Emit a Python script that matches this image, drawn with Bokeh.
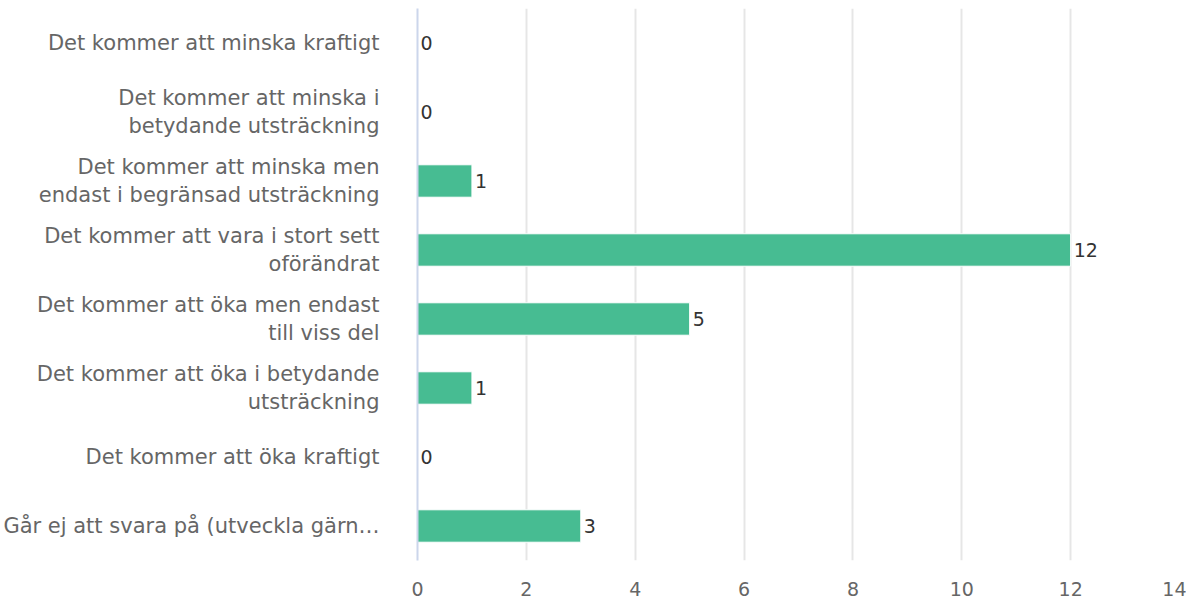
from bokeh.plotting import figure
from bokeh.models import ColumnDataSource, FactorRange, Range1d, FixedTicker
from bokeh.core.properties import value
from bokeh.embed import file_html
from bokeh.resources import INLINE

categories = [
    "Det kommer att minska kraftigt",
    "Det kommer att minska i\nbetydande utsträckning",
    "Det kommer att minska men\nendast i begränsad utsträckning",
    "Det kommer att vara i stort sett\noförändrat",
    "Det kommer att öka men endast\ntill viss del",
    "Det kommer att öka i betydande\nutsträckning",
    "Det kommer att öka kraftigt",
    "Går ej att svara på (utveckla gärn…",
]
counts = [0, 0, 1, 12, 5, 1, 0, 3]
x_ticks = [0, 2, 4, 6, 8, 10, 12, 14]

FONT = "DejaVu Sans"

src = ColumnDataSource(dict(cat=categories, val=counts, lab=[str(v) for v in counts]))

p = figure(width=1186, height=600, output_backend="svg", toolbar_location=None,
           y_range=FactorRange(*reversed(categories), range_padding=0),
           x_range=Range1d(0, 14))
p.min_border_left = 0
p.min_border_top = 8
p.min_border_right = 7
p.min_border_bottom = 40
p.outline_line_color = None

p.hbar(y="cat", right="val", left=0, height=0.47, source=src,
       fill_color="#47BC92", line_color="white", line_width=1)
p.text(x="val", y="cat", text="lab", source=src, x_offset=3,
       text_align="left", text_baseline="middle", text_font=value(FONT),
       text_font_size="19px", text_color="#333333")

p.xgrid.grid_line_color = "#e6e6e6"
p.xgrid.grid_line_width = 2
p.ygrid.grid_line_color = None
p.xaxis.ticker = FixedTicker(ticks=x_ticks)
p.xaxis.axis_line_color = None
p.xaxis.major_tick_line_color = None
p.xaxis.minor_tick_line_color = None
p.xaxis.major_label_text_font = FONT
p.xaxis.major_label_text_font_size = "19px"
p.xaxis.major_label_text_color = "#666666"
p.xaxis.major_label_standoff = 15

p.yaxis.axis_line_color = "#ccd6eb"
p.yaxis.axis_line_width = 2
p.yaxis.major_tick_line_color = None
p.yaxis.minor_tick_line_color = None
p.yaxis.major_label_text_font = FONT
p.yaxis.major_label_text_font_size = "21px"
p.yaxis.major_label_text_line_height = 1.2
p.yaxis.major_label_text_color = "#666666"
p.yaxis.major_label_standoff = 32

open("out.html", "w").write(file_html(p, INLINE))
